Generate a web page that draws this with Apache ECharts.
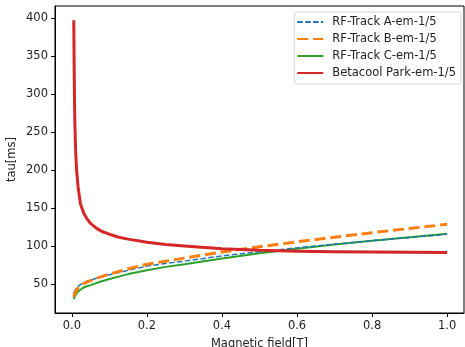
<!DOCTYPE html>
<html>
<head>
<meta charset="utf-8">
<script src="https://cdn.jsdelivr.net/npm/echarts@6/dist/echarts.min.js"></script>
<style>
html,body{margin:0;padding:0;background:#fff;}
#chart{width:465px;height:347px;}
</style>
</head>
<body>
<div id="chart"></div>
<script>
// Shared field values (T) for RF-Track series
const fieldRF = [0.005, 0.0075, 0.01, 0.015, 0.02, 0.03, 0.04, 0.05, 0.075, 0.1, 0.15, 0.2, 0.25, 0.3, 0.4, 0.5, 0.6, 0.7, 0.8, 0.9, 1.0];
const tauA = [38, 41, 43.5, 46.5, 48.5, 51.5, 53.5, 55, 59, 62, 68, 73.5, 77, 80, 87, 92.5, 97.5, 102.5, 107, 111.2, 115.3];
const tauB = [33, 37, 40, 44, 46.5, 50, 52.5, 54.5, 59, 63, 70, 76, 80, 84, 92, 99, 105.5, 111.5, 117.5, 123, 128.5];
const tauC = [30, 33.5, 36, 39.5, 42, 45, 47, 48.5, 53, 56.5, 63, 68, 72.5, 76, 83.5, 90.5, 96.5, 102, 107, 111.5, 116];
// Betacool
const fieldBC = [0.005, 0.006, 0.007, 0.008, 0.01, 0.0125, 0.0165, 0.0225, 0.0315, 0.04, 0.049, 0.065, 0.08, 0.1, 0.125, 0.15, 0.2, 0.25, 0.3, 0.4, 0.5, 0.6, 0.7, 0.8, 0.9, 1.0];
const tauBC = [397, 340, 290, 260, 225, 200, 178, 156, 143, 136, 130, 123.5, 119, 115.5, 111.5, 109, 105, 102, 100, 96.5, 94.3, 93.2, 92.5, 92, 91.7, 91.5];

const xTicks = [0, 0.2, 0.4, 0.6, 0.8, 1.0];
const yTicks = [50, 100, 150, 200, 250, 300, 350, 400];
const seriesNames = ['RF-Track A-em-1/5', 'RF-Track B-em-1/5', 'RF-Track C-em-1/5', 'Betacool Park-em-1/5'];

const pairs = (xs, ys) => xs.map((x, i) => [x, ys[i]]);
const font = 'DejaVu Sans';
const fs = 11.5;
const chart = echarts.init(document.getElementById('chart'), null, {renderer: 'canvas'});
chart.setOption({
  animation: false,
  backgroundColor: '#fff',
  grid: {left: 55, top: 6, right: 1, bottom: 34, show: true, borderColor: '#000', borderWidth: 1,
         containLabel: false, outerBoundsMode: 'none'},
  legend: {
    orient: 'vertical', right: 4, top: 12,
    backgroundColor: '#fff', borderColor: '#d4d4d4', borderWidth: 1, borderRadius: 3,
    padding: [4, 5, 5, 2], itemGap: 5, itemWidth: 26, itemHeight: 12,
    itemStyle: {opacity: 0},
    textStyle: {fontFamily: font, fontSize: fs, color: '#222', padding: [0, 0, 0, 4]},
    data: seriesNames
  },
  xAxis: {
    type: 'value', min: -0.045, max: 1.045,
    name: 'Magnetic field[T]', nameLocation: 'middle', nameGap: 25, nameMoveOverlap: false,
    nameTextStyle: {fontFamily: font, fontSize: fs, color: '#222'},
    axisLine: {show: true, onZero: false, lineStyle: {color: '#000', width: 1}},
    axisTick: {show: true, inside: false, length: 4, customValues: xTicks, lineStyle: {color: '#000'}},
    axisLabel: {customValues: xTicks, margin: 7, fontFamily: font, fontSize: fs, color: '#222',
      formatter: v => v.toFixed(1)},
    splitLine: {show: false}
  },
  yAxis: {
    type: 'value', min: 11.8, max: 415.8,
    name: 'tau[ms]', nameLocation: 'middle', nameGap: 37, nameRotate: 90, nameMoveOverlap: false,
    nameTextStyle: {fontFamily: font, fontSize: fs, color: '#222'},
    axisLine: {show: true, onZero: false, lineStyle: {color: '#000', width: 1}},
    axisTick: {show: true, inside: false, length: 4, customValues: yTicks, lineStyle: {color: '#000'}},
    axisLabel: {customValues: yTicks, margin: 7, fontFamily: font, fontSize: fs, color: '#222'},
    splitLine: {show: false}
  },
  series: [
    {name: seriesNames[0], type: 'line', symbol: 'none', data: pairs(fieldRF, tauA), z: 3,
     lineStyle: {color: '#1f77b4', width: 1.5, type: [5.5, 2.4]}, itemStyle: {color: '#1f77b4'}},
    {name: seriesNames[1], type: 'line', symbol: 'none', data: pairs(fieldRF, tauB), z: 4,
     lineStyle: {color: '#ff7f0e', width: 3, type: [11, 4.8]}, itemStyle: {color: '#ff7f0e'}},
    {name: seriesNames[2], type: 'line', symbol: 'none', data: pairs(fieldRF, tauC), z: 2,
     lineStyle: {color: '#2ca02c', width: 2}, itemStyle: {color: '#2ca02c'}},
    {name: seriesNames[3], type: 'line', symbol: 'none', data: pairs(fieldBC, tauBC), z: 5,
     lineStyle: {color: '#d62728', width: 3, join: 'round'}, itemStyle: {color: '#d62728'}}
  ]
});
</script>
</body>
</html>
